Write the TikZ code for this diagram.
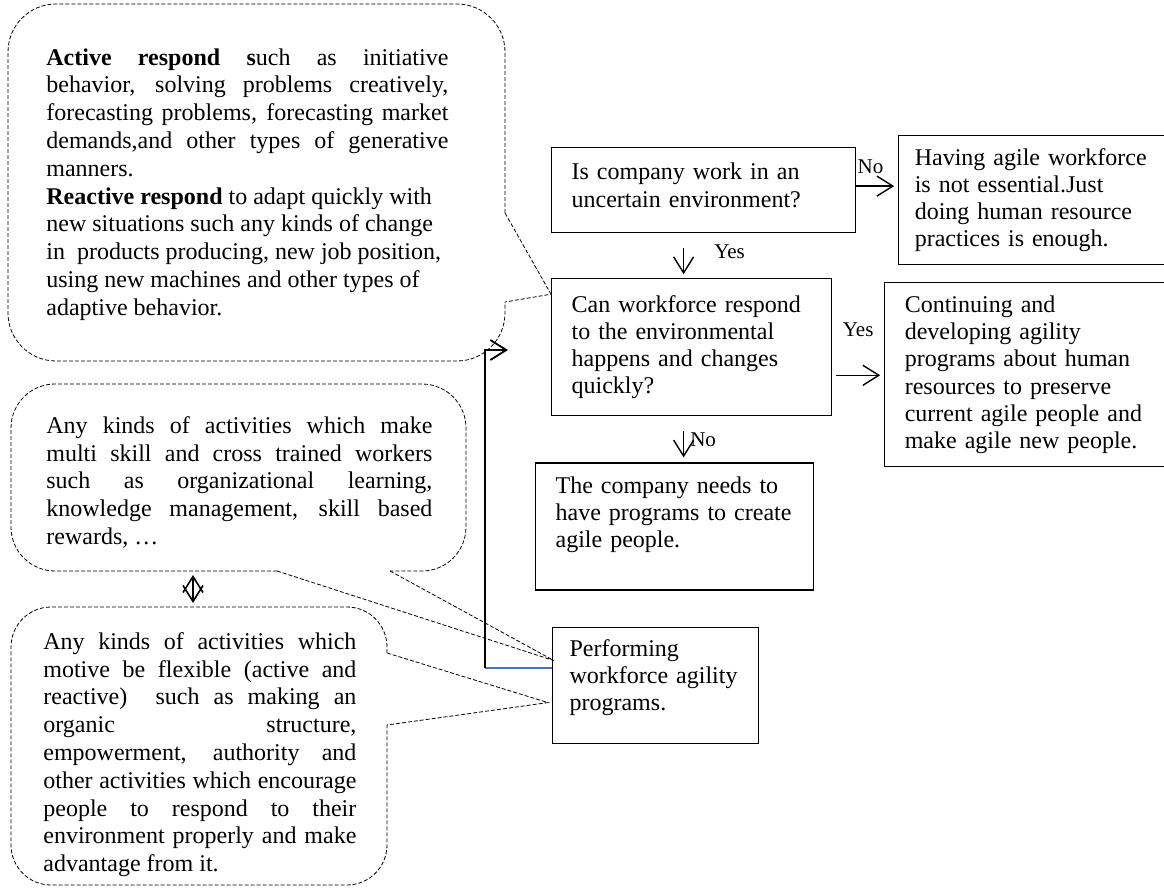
\documentclass[tikz,border=0pt]{standalone}
\usepackage{fontspec}
\setmainfont{Liberation Serif}
\usetikzlibrary{positioning,calc,arrows.meta}
\definecolor{wordblue}{RGB}{68,114,196}
\tolerance=10000
\hbadness=10000
\hyphenpenalty=10000
\newcommand{\padbelow}[1]{\rule[-#1]{0pt}{#1}}

\begin{document}
\begin{tikzpicture}[x=0.5pt, y=-0.5pt, >={Straight Barb[length=8pt,width=10pt]},
    box/.style={draw, line width=0.6pt, inner xsep=10pt, inner ysep=3pt, align=left, font=\fontsize{12}{13.6}\selectfont},
    note/.style={line width=0.4pt, dash pattern=on 2pt off 1pt},
    notetext/.style={inner sep=0pt, align=justify, anchor=north west, font=\fontsize{12}{13.9}\selectfont},
    flow/.style={->, line width=0.7pt},
    tag/.style={inner sep=0pt, font=\fontsize{10.5}{12}\selectfont}]
    \useasboundingbox (0,0) rectangle (1164,888);

    % flow chart
    \node [box, text width=132pt, minimum height=42.5pt, anchor=north west] (q1) at (551,147) {Is company work in an\\uncertain environment?\padbelow{5pt}};
    \node [box, text width=117pt, inner xsep=8pt, minimum height=64.5pt, right=21pt of q1.north east, anchor=north west, yshift=6pt] (nores) {Having agile workforce\\is not essential.Just\\doing human resource\\practices is enough.};
    \node [box, text width=120pt, minimum height=68.5pt, below=22.5pt of q1.south west, anchor=north west] (q2) {Can workforce respond\\to the environmental\\happens and changes\\quickly?};
    \node [box, text width=120pt, minimum height=92pt, right=26pt of q2.north east, anchor=north west, yshift=-2pt] (cont) {Continuing and\\developing agility\\programs about human\\resources to preserve\\current agile people and\\make agile new people.};
    \node [box, text width=119pt, minimum height=63.5pt, below=23pt of q2.south west, anchor=north west, xshift=-8pt] (q3) {The company needs to\\have programs to create\\agile people.\padbelow{14.5pt}};
    \node [box, text width=86pt, inner xsep=8.5pt, minimum height=58pt, below=18pt of q3.south west, anchor=north west, xshift=8.5pt] (perf) {Performing\\workforce agility\\programs.\padbelow{10pt}};

    \draw [flow, shorten >=2pt] ([yshift=2pt]q1.east) -- ([yshift=2pt]q1.east -| nores.west) node [tag, pos=0.34, above=6pt] {No};
    \draw [flow, shorten <=7.5pt, shorten >=2pt] ([xshift=-10pt]q1.south) -- ([xshift=-10pt]q1.south |- q2.north) node [tag, midway, right=15pt, yshift=2pt] {Yes};
    \draw [flow, shorten <=2pt, shorten >=2pt] ([yshift=-14pt]q2.east) -- ([yshift=-14pt]q2.east -| cont.west) node [tag, midway, above=19pt] {Yes};
    \draw [flow, shorten <=7.5pt, shorten >=2.5pt] ([xshift=-4pt]q2.south) -- ([xshift=-4pt]q2.south |- q3.north) node [tag, midway, right=3pt] {No};

    % loop back
    \coordinate (bend) at (485,668);
    \coordinate (loopend) at (508,350);
    \draw [wordblue, line width=0.9pt] (bend -| perf.west) -- (bend);
    \draw [flow, line width=0.9pt] (bend) |- (loopend);

    % callouts
    \node [notetext, text width=201pt] (activenote) at (46,48) {\textbf{Active respond s}uch as initiative\linebreak behavior, solving problems creatively,\linebreak forecasting problems, forecasting market\linebreak demands,and other types of generative\linebreak manners.\newline \textbf{Reactive respond} to adapt quickly with\newline new situations such any kinds of change\newline in\ \ products producing, new job position,\newline using new machines and other types of\newline adaptive behavior.};
    \node [notetext, text width=193pt] (skillnote) at (46,416) {Any kinds of activities which make\linebreak multi skill and cross trained workers\linebreak such as organizational learning,\linebreak knowledge management, skill based\linebreak rewards, …};
    \node [notetext, text width=156.5pt] (flexnote) at (43,632) {Any kinds of activities which\linebreak motive be flexible (active and\linebreak reactive)\ \ such as making an\linebreak organic structure,\linebreak empowerment, authority and\linebreak other activities which encourage\linebreak people to respond to their\linebreak environment properly and make\linebreak advantage from it.};

    \draw [note, rounded corners=24pt] (505,213) -- (505,4) -- (8,4) -- (8,361) -- (505,361) -- (505,302);
    \draw [note] (505,213) -- ([yshift=-8pt]q2.north west) -- (505,302);
    \draw [note, rounded corners=22pt] (277,571) -- (11,571) -- (11,384) -- (466,384) -- (466,571) -- (390,571);
    \draw [note] (277,571) -- ([xshift=1pt,yshift=-17pt]perf.north west) -- (390,571);
    \draw [note, rounded corners=20pt] (387,653) -- (387,607) -- (11,607) -- (11,885) -- (387,885) -- (387,725);
    \draw [note] (387,653) -- ([xshift=-2pt,yshift=-38pt]perf.north west) -- (387,725);

    \coordinate (skilltail) at (193,575);
    \coordinate (flexhead) at (193,603);
    \draw [<->, line width=0.8pt] (skilltail) -- (flexhead);
\end{tikzpicture}
\end{document}
